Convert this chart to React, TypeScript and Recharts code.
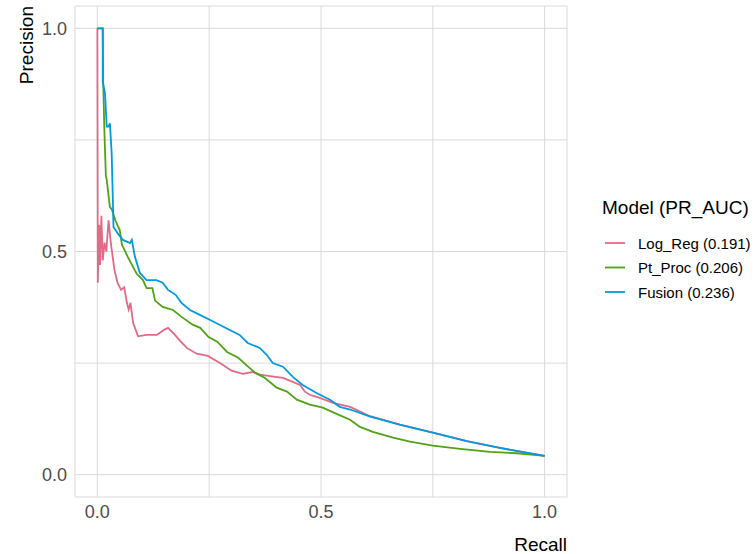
import React from 'react';
import { LineChart, Line, XAxis, YAxis, CartesianGrid, Label } from 'recharts';

const FONT = '"Liberation Sans", Arial, Helvetica, sans-serif';

// axis ticks (0.25 / 0.75 are minor gridlines only)
const majorTicks = [0, 0.5, 1];
const gridTicks = [0, 0.25, 0.5, 0.75, 1];

// Log_Reg
const logRegRecall = [
  0.0, 0.001, 0.004, 0.006, 0.009, 0.012, 0.016, 0.02, 0.025, 0.03, 0.038, 0.045, 0.053, 0.06,
  0.066, 0.07, 0.074, 0.08, 0.091, 0.11, 0.133, 0.15, 0.158, 0.172, 0.185, 0.2, 0.222, 0.247,
  0.274, 0.3, 0.325, 0.347, 0.364, 0.386, 0.415, 0.437, 0.453, 0.464, 0.475, 0.497, 0.527,
  0.565, 0.61, 0.676, 0.75, 0.826, 0.9, 1.0,
];
const logRegPrecision = [
  1.0, 0.43, 0.56, 0.47, 0.58, 0.48, 0.52, 0.5, 0.57, 0.52, 0.46, 0.43, 0.414, 0.42,
  0.385, 0.37, 0.385, 0.34, 0.31, 0.313, 0.313, 0.325, 0.329, 0.315, 0.3, 0.284, 0.271, 0.266,
  0.25, 0.233, 0.226, 0.23, 0.224, 0.221, 0.217, 0.208, 0.201, 0.186, 0.179, 0.172, 0.161,
  0.152, 0.131, 0.112, 0.094, 0.075, 0.06, 0.042,
];

// Pt_Proc
const ptProcRecall = [
  0.0, 0.012, 0.013, 0.016, 0.019, 0.021, 0.028, 0.033, 0.04, 0.05, 0.055, 0.068, 0.08, 0.088,
  0.102, 0.11, 0.123, 0.129, 0.146, 0.169, 0.189, 0.213, 0.23, 0.248, 0.268, 0.29, 0.315, 0.337,
  0.353, 0.374, 0.401, 0.424, 0.446, 0.475, 0.504, 0.526, 0.565, 0.587, 0.616, 0.661, 0.699,
  0.75, 0.811, 0.878, 0.938, 1.0,
];
const ptProcPrecision = [
  1.0, 1.0, 0.88, 0.76, 0.67, 0.66, 0.6, 0.593, 0.57, 0.548, 0.515, 0.488, 0.465, 0.45,
  0.436, 0.418, 0.418, 0.39, 0.376, 0.369, 0.353, 0.336, 0.329, 0.309, 0.298, 0.275, 0.262, 0.242,
  0.228, 0.217, 0.195, 0.186, 0.168, 0.157, 0.15, 0.14, 0.123, 0.107, 0.096, 0.083, 0.074,
  0.065, 0.058, 0.051, 0.048, 0.042,
];

// Fusion
const fusionRecall = [
  0.0, 0.012, 0.012, 0.017, 0.021, 0.025, 0.028, 0.032, 0.035, 0.036, 0.046, 0.057, 0.073, 0.077,
  0.084, 0.095, 0.11, 0.132, 0.146, 0.158, 0.175, 0.188, 0.207, 0.229, 0.251, 0.273, 0.296, 0.318,
  0.336, 0.363, 0.379, 0.392, 0.415, 0.437, 0.459, 0.49, 0.52, 0.542, 0.565, 0.61, 0.676, 0.75,
  0.826, 0.9, 1.0,
];
const fusionPrecision = [
  1.0, 1.0, 0.88, 0.855, 0.78, 0.78, 0.787, 0.72, 0.6, 0.555, 0.54, 0.526, 0.519, 0.526,
  0.488, 0.452, 0.436, 0.436, 0.43, 0.414, 0.403, 0.385, 0.369, 0.358, 0.347, 0.336, 0.324, 0.313,
  0.295, 0.284, 0.268, 0.25, 0.242, 0.219, 0.201, 0.183, 0.168, 0.152, 0.146, 0.13, 0.112, 0.094,
  0.075, 0.06, 0.042,
];

const seriesNames = ['Log_Reg (0.191)', 'Pt_Proc (0.206)', 'Fusion (0.236)'];
const seriesColors = ['#E16A86', '#50A315', '#009ADE'];

const toPoints = (rec: number[], prec: number[]) =>
  rec.map((r, i) => ({ recall: r, precision: prec[i] }));

const series = [
  toPoints(logRegRecall, logRegPrecision),
  toPoints(ptProcRecall, ptProcPrecision),
  toPoints(fusionRecall, fusionPrecision),
];

const fmt = (v: number) => (majorTicks.includes(v) ? v.toFixed(1) : '');

const tickStyle = { fill: '#4D4D4D', fontSize: 18, fontFamily: FONT };

const RecallTitle = (props: any) => {
  const vb = props.viewBox;
  return (
    <text x={vb.x + vb.width} y={vb.y + 54} textAnchor="end" fontSize={19} fontFamily={FONT} fill="#000">
      Recall
    </text>
  );
};

const PrecisionTitle = (props: any) => {
  const vb = props.viewBox;
  return (
    <text
      transform={`translate(33, ${vb.y}) rotate(-90)`}
      textAnchor="end"
      fontSize={19}
      fontFamily={FONT}
      fill="#000"
    >
      Precision
    </text>
  );
};

export default function App() {
  return (
    <div style={{ position: 'absolute', left: 0, top: 0, width: 755, height: 554, background: '#fff' }}>
      <LineChart width={755} height={554} margin={{ top: 6, right: 188, bottom: 0, left: 0 }}>
        <CartesianGrid stroke="#DADADA" strokeWidth={1} />
        <XAxis
          type="number"
          dataKey="recall"
          domain={[-0.05, 1.05]}
          ticks={gridTicks}
          tickFormatter={fmt}
          interval={0}
          allowDataOverflow
          axisLine={false}
          tickLine={false}
          height={57}
          tick={tickStyle}
        >
          <Label content={RecallTitle} />
        </XAxis>
        <YAxis
          type="number"
          domain={[-0.05, 1.05]}
          ticks={gridTicks}
          tickFormatter={fmt}
          interval={0}
          allowDataOverflow
          axisLine={false}
          tickLine={false}
          width={75}
          tick={tickStyle}
        >
          <Label content={PrecisionTitle} />
        </YAxis>
        {series.map((pts, i) => (
          <Line
            key={seriesNames[i]}
            data={pts}
            dataKey="precision"
            name={seriesNames[i]}
            type="linear"
            stroke={seriesColors[i]}
            strokeWidth={1.8}
            dot={false}
            activeDot={false}
            isAnimationActive={false}
          />
        ))}
      </LineChart>
      <svg
        width={755}
        height={554}
        style={{ position: 'absolute', left: 0, top: 0, pointerEvents: 'none' }}
      >
        <text x={602} y={214} fontSize={19} fontFamily={FONT} fill="#000">
          Model (PR_AUC)
        </text>
        {seriesNames.map((n, i) => (
          <g key={n}>
            <line x1={605} x2={625} y1={243 + i * 24.5} y2={243 + i * 24.5} stroke={seriesColors[i]} strokeWidth={1.8} />
            <text x={638} y={248.5 + i * 24.5} fontSize={15} fontFamily={FONT} fill="#000">
              {n}
            </text>
          </g>
        ))}
      </svg>
    </div>
  );
}
